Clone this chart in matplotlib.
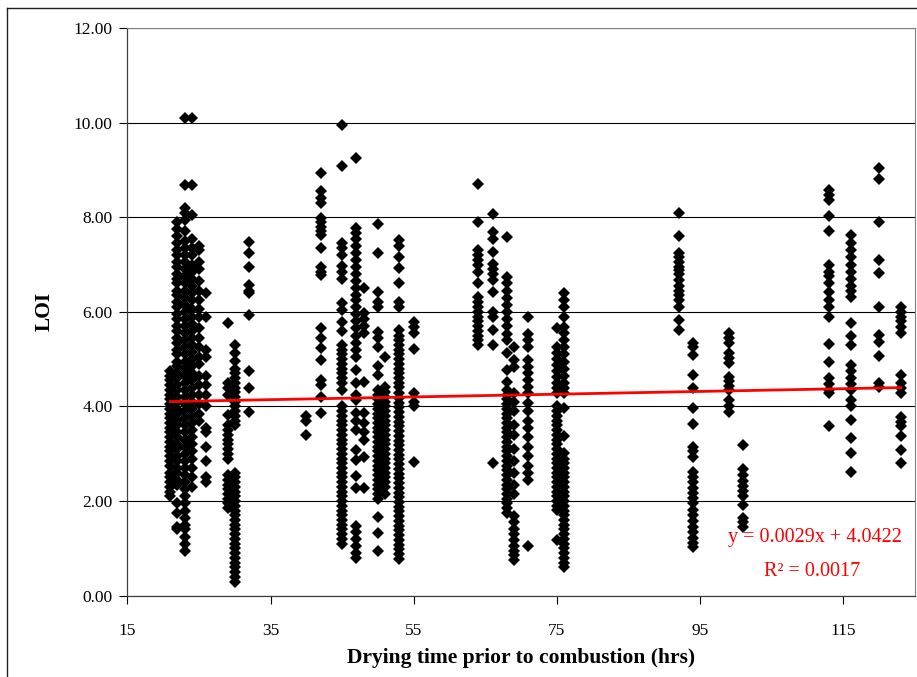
"""
LOI versus drying time prior to combustion, with linear trend line
"""

import matplotlib.pyplot as plt
from matplotlib.lines import Line2D

plt.rcParams['font.family'] = ['Liberation Serif', 'DejaVu Serif']

# Drying time (hrs) of each sample batch
drying_hours = [21, 22, 23, 24, 25, 26, 29, 30, 32, 40, 42, 45, 47, 48, 50, 51, 53, 55,
                64, 66, 68, 69, 71, 75, 76, 92, 94, 99, 101, 113, 116, 120, 123]

# LOI readings per batch
loi_21 = [4.75, 4.65, 4.55, 4.45, 4.35, 4.25, 4.15, 4.05, 3.95, 3.85, 3.75, 3.65, 3.55, 3.45,
          3.35, 3.25, 3.15, 3.05, 2.95, 2.85, 2.75, 2.6, 2.5, 2.4, 2.3, 2.2, 2.1]
loi_22 = [7.9, 7.75, 7.6, 7.45, 7.3, 7.2, 7.05, 6.95, 6.8, 6.7, 6.6, 6.45, 6.35, 6.2, 6.1, 5.95,
          5.85, 5.7, 5.6, 5.45, 5.35, 5.2, 5.1, 4.95, 4.85, 4.7, 4.6, 4.45, 4.35, 4.2, 4.1, 3.95,
          3.85, 3.7, 3.6, 3.45, 3.35, 3.2, 3.1, 2.95, 2.85, 2.7, 2.6, 2.45, 2.35, 1.95, 1.75, 1.45, 1.4]
loi_23 = [10.1, 8.68, 8.2, 8.1, 7.95, 7.7, 7.5, 7.35, 7.2, 7.05, 6.9, 6.75, 6.6, 6.45, 6.3, 6.15,
          6.0, 5.85, 5.7, 5.55, 5.4, 5.25, 5.1, 4.95, 4.8, 4.65, 4.5, 4.35, 4.2, 4.05, 3.9, 3.75,
          3.6, 3.45, 3.3, 3.15, 3.0, 2.85, 2.7, 2.55, 2.4, 2.25, 2.1, 1.95, 1.8, 1.65, 1.5, 1.4,
          1.25, 1.1, 0.95]
loi_24 = [10.1, 8.68, 8.05, 7.55, 7.35, 7.2, 7.0, 6.85, 6.7, 6.55, 6.4, 6.25, 6.05, 5.9, 5.75,
          5.6, 5.45, 5.3, 5.15, 5.0, 4.85, 4.7, 4.55, 4.4, 4.25, 4.1, 3.95, 3.8, 3.65, 3.5, 3.35,
          3.2, 3.05, 2.9, 2.7, 2.5, 2.3]
loi_25 = [7.4, 7.3, 7.05, 6.9, 6.65, 6.45, 6.25, 6.05, 5.9, 5.65, 5.45, 5.25, 5.05, 4.9, 4.65,
          4.45, 4.25, 4.05, 3.85, 3.7]
loi_26 = [6.4, 5.9, 5.2, 5.05, 4.65, 4.45, 4.25, 4.0, 3.55, 3.45, 3.15, 2.85, 2.5, 2.4]
loi_29 = [5.76, 4.5, 4.4, 4.25, 3.82, 3.6, 3.5, 3.4, 3.3, 3.2, 3.1, 3.0, 2.9, 2.55, 2.45, 2.35,
          2.25, 2.15, 2.05, 1.95, 1.85]
loi_30 = [5.31, 5.12, 4.97, 4.8, 4.7, 4.6, 4.5, 4.4, 4.3, 4.2, 4.1, 4.0, 3.9, 3.8, 3.7, 3.6, 2.6,
          2.5, 2.4, 2.3, 2.2, 2.1, 2.0, 1.9, 1.8, 1.7, 1.6, 1.5, 1.4, 1.3, 1.2, 1.1, 1.0, 0.9, 0.8,
          0.7, 0.6, 0.5, 0.4, 0.3]
loi_32 = [7.48, 7.24, 6.94, 6.57, 6.45, 6.39, 5.93, 4.74, 4.38, 3.89]
loi_40 = [3.8, 3.7, 3.4]
loi_42 = [8.94, 8.55, 8.4, 8.3, 7.98, 7.9, 7.8, 7.7, 7.63, 7.36, 6.95, 6.85, 6.78, 5.65, 5.44,
          5.23, 4.98, 4.56, 4.46, 4.2, 3.86]
loi_45 = [9.95, 9.09, 7.45, 7.35, 7.2, 6.97, 6.85, 6.7, 6.18, 6.04, 5.78, 5.6, 5.3, 5.2, 5.1, 5.0,
          4.9, 4.8, 4.7, 4.6, 4.5, 4.35, 4.0, 3.9, 3.8, 3.7, 3.6, 3.5, 3.4, 3.3, 3.2, 3.1, 3.0, 2.9,
          2.8, 2.7, 2.6, 2.5, 2.4, 2.3, 2.2, 2.1, 2.0, 1.9, 1.8, 1.7, 1.6, 1.5, 1.4, 1.3, 1.2, 1.1]
loi_47 = [9.25, 7.77, 7.67, 7.55, 7.4, 7.25, 7.1, 6.95, 6.8, 6.65, 6.5, 6.35, 6.25, 6.1, 5.95,
          5.8, 5.65, 5.5, 5.35, 5.2, 5.05, 4.77, 4.49, 4.24, 4.14, 3.86, 3.7, 3.5, 3.08, 2.87,
          2.52, 2.27, 1.47, 1.35, 1.2, 1.05, 0.9, 0.8]
loi_48 = [6.5, 5.97, 5.85, 5.7, 5.55, 4.52, 3.86, 3.65, 3.45, 3.3, 2.94, 2.27]
loi_50 = [7.86, 7.24, 6.43, 6.2, 6.1, 5.58, 5.45, 5.26, 4.85, 4.67, 4.35, 4.25, 4.15, 4.05, 3.95,
          3.85, 3.75, 3.65, 3.55, 3.45, 3.35, 3.25, 3.15, 3.05, 2.95, 2.85, 2.75, 2.65, 2.55, 2.45,
          2.35, 2.25, 2.15, 2.05, 1.67, 1.32, 0.95]
loi_51 = [5.05, 4.42, 4.3, 4.2, 4.1, 4.0, 3.9, 3.8, 3.7, 3.6, 3.5, 3.4, 3.3, 3.2, 3.1, 3.0, 2.9,
          2.8, 2.7, 2.6, 2.5, 2.4, 2.3, 2.16]
loi_53 = [7.52, 7.4, 7.17, 6.92, 6.6, 6.2, 6.1, 5.62, 5.5, 5.4, 5.3, 5.2, 5.1, 5.0, 4.9, 4.8, 4.7,
          4.6, 4.5, 4.42, 4.28, 4.18, 4.08, 3.98, 3.88, 3.78, 3.68, 3.58, 3.48, 3.38, 3.28, 3.18,
          3.08, 2.98, 2.88, 2.78, 2.68, 2.58, 2.48, 2.38, 2.28, 2.18, 2.08, 1.98, 1.88, 1.78, 1.68,
          1.58, 1.48, 1.38, 1.28, 1.18, 1.08, 0.98, 0.88, 0.78]
loi_55 = [5.79, 5.67, 5.55, 5.21, 4.28, 4.1, 4.0, 2.83]
loi_64 = [8.7, 7.91, 7.31, 7.2, 7.1, 7.0, 6.85, 6.6, 6.32, 6.2, 6.1, 6.0, 5.9, 5.8, 5.7, 5.6,
          5.5, 5.4, 5.3]
loi_66 = [8.06, 7.69, 7.55, 7.27, 7.02, 6.9, 6.8, 6.67, 6.43, 6.0, 5.9, 5.62, 5.3, 2.8]
loi_68 = [7.59, 6.74, 6.6, 6.45, 6.3, 6.15, 6.0, 5.85, 5.7, 5.54, 5.4, 5.13, 4.78, 4.52, 4.35,
          4.25, 4.15, 4.05, 3.95, 3.85, 3.75, 3.65, 3.55, 3.45, 3.35, 3.25, 3.15, 3.05, 2.95, 2.85,
          2.75, 2.65, 2.55, 2.45, 2.35, 2.25, 2.15, 2.05, 1.95, 1.85, 1.74]
loi_69 = [5.26, 4.98, 4.84, 4.28, 4.1, 3.9, 3.6, 3.4, 3.1, 2.85, 2.6, 2.35, 2.16, 1.68, 1.55,
          1.42, 1.3, 1.18, 1.05, 0.95, 0.85, 0.75]
loi_71 = [5.89, 5.54, 5.4, 5.26, 4.98, 4.84, 4.7, 4.56, 4.42, 4.28, 4.07, 3.9, 3.7, 3.55, 3.36,
          3.15, 2.95, 2.75, 2.6, 2.45, 1.04]
loi_75 = [5.65, 5.26, 5.12, 5.0, 4.88, 4.75, 4.62, 4.5, 4.38, 4.28, 4.0, 3.9, 3.8, 3.7, 3.6, 3.5,
          3.4, 3.3, 3.2, 3.1, 3.0, 2.9, 2.8, 2.7, 2.6, 2.5, 2.4, 2.3, 2.2, 2.1, 2.0, 1.9, 1.81, 1.18]
loi_76 = [6.39, 6.25, 6.1, 5.9, 5.69, 5.55, 5.4, 5.25, 5.1, 4.95, 4.8, 4.65, 4.5, 4.38, 4.28,
          3.96, 3.37, 3.01, 2.9, 2.8, 2.7, 2.6, 2.5, 2.4, 2.3, 2.2, 2.1, 2.0, 1.9, 1.8, 1.7, 1.6,
          1.5, 1.4, 1.3, 1.2, 1.1, 1.0, 0.9, 0.8, 0.7, 0.61]
loi_92 = [8.1, 7.6, 7.24, 7.15, 7.05, 6.95, 6.88, 6.81, 6.67, 6.55, 6.45, 6.35, 6.25, 6.11, 5.83,
          5.62]
loi_94 = [5.34, 5.25, 5.09, 4.67, 4.38, 3.96, 3.64, 3.15, 3.05, 2.94, 2.62, 2.5, 2.4, 2.28, 2.17,
          2.06, 1.95, 1.81, 1.7, 1.58, 1.46, 1.34, 1.22, 1.11, 1.03]
loi_99 = [5.55, 5.45, 5.34, 5.12, 5.02, 4.91, 4.63, 4.53, 4.44, 4.35, 4.14, 4.0, 3.89]
loi_101 = [3.19, 2.67, 2.55, 2.43, 2.32, 2.21, 2.11, 1.92, 1.64, 1.55, 1.46]
loi_113 = [8.58, 8.48, 8.37, 8.03, 7.7, 6.99, 6.85, 6.75, 6.6, 6.43, 6.25, 6.1, 5.9, 5.33, 4.93,
           4.6, 4.47, 4.35, 4.28, 3.58]
loi_116 = [7.62, 7.45, 7.3, 7.15, 7.0, 6.85, 6.7, 6.55, 6.45, 6.32, 5.76, 5.48, 5.3, 4.88, 4.75,
           4.6, 4.47, 4.35, 4.14, 4.0, 3.72, 3.33, 3.01, 2.62]
loi_120 = [9.04, 8.8, 7.91, 7.1, 6.83, 6.11, 5.51, 5.37, 5.07, 4.49, 4.42]
loi_123 = [6.11, 6.0, 5.9, 5.8, 5.68, 5.55, 4.67, 4.49, 4.38, 4.28, 3.78, 3.68, 3.58, 3.37, 3.08,
           2.81]

loi_batches = [loi_21, loi_22, loi_23, loi_24, loi_25, loi_26, loi_29, loi_30, loi_32, loi_40,
               loi_42, loi_45, loi_47, loi_48, loi_50, loi_51, loi_53, loi_55, loi_64, loi_66,
               loi_68, loi_69, loi_71, loi_75, loi_76, loi_92, loi_94, loi_99, loi_101, loi_113,
               loi_116, loi_120, loi_123]

# Linear trend (as reported)
slope = 0.0029
intercept = 4.0422
r_squared = 0.0017

yticks = [0, 2, 4, 6, 8, 10, 12]
xticks = [15, 35, 55, 75, 95, 115]

fig = plt.figure(figsize=(9.17, 6.77), dpi=100)
ax = fig.add_axes([0.1389, 0.1201, 0.8589, 0.8385])

# flatten batches into x / y series
xs, ys = [], []
for hrs, vals in zip(drying_hours, loi_batches):
    xs += [hrs] * len(vals)
    ys += vals

ax.plot(xs, ys, linestyle='none', marker='D', markersize=6.3,
        color='black', markeredgewidth=0, zorder=3)

# trend line across the data range
x_fit = [min(xs), max(xs)]
y_fit = [slope * x + intercept for x in x_fit]
ax.plot(x_fit, y_fit, color='red', linewidth=2.0, zorder=4)

ax.text(111.0, 1.22, f'y = {slope:.4f}x + {intercept:.4f}', color='red',
        fontsize=14.5, ha='center', va='center')
ax.text(110.6, 0.52, f'R² = {r_squared:.4f}', color='red',
        fontsize=14.5, ha='center', va='center')

ax.set_xlim(15, 125)
ax.set_ylim(0, 12)
ax.set_xticks(xticks)
ax.set_yticks(yticks)
ax.set_yticklabels([f'{v:.2f}' for v in yticks])
ax.tick_params(direction='out', length=5.5, width=0.8, labelsize=12.5,
               top=False, right=False)
ax.tick_params(axis='x', pad=14)
ax.tick_params(axis='y', pad=5)

ax.grid(True, axis='y', color='black', linewidth=0.8, zorder=1)
ax.set_axisbelow(True)
for side in ['top', 'right']:
    ax.spines[side].set_color('#808080')
    ax.spines[side].set_linewidth(0.8)
for side in ['left', 'bottom']:
    ax.spines[side].set_color('#404040')
    ax.spines[side].set_linewidth(0.9)

ax.set_xlabel('Drying time prior to combustion (hrs)', fontsize=15.5, fontweight='bold')
ax.set_ylabel('LOI', fontsize=15.5, fontweight='bold')
ax.xaxis.set_label_coords(0.5, -0.092)
ax.yaxis.set_label_coords(-0.092, 0.5)

# chart area border
fig.add_artist(Line2D([7 / 917, 7 / 917], [0, 1 - 8 / 677], color='#202020', linewidth=1.0))
fig.add_artist(Line2D([7 / 917, 1], [1 - 8 / 677, 1 - 8 / 677], color='#202020', linewidth=1.0))

plt.savefig('out.png', dpi=100)
